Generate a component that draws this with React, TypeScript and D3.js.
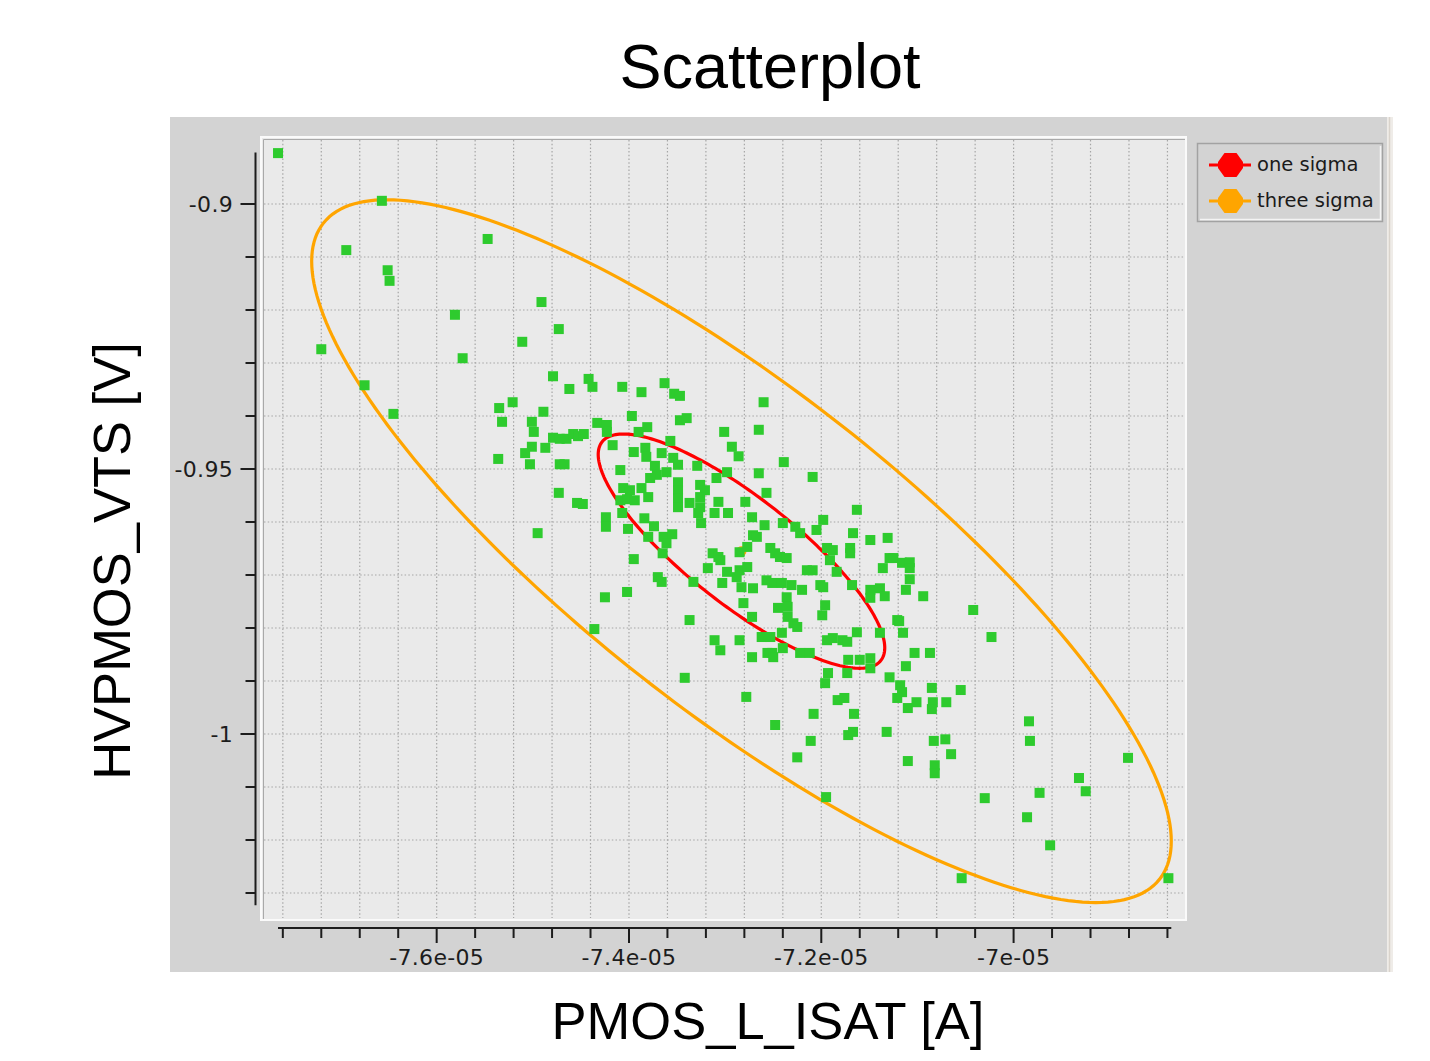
import React, { useEffect, useRef } from "react";
import * as d3 from "d3";

const WIDTH = 1430;
const HEIGHT = 1061;

// samples: [PMOS_L_ISAT in uA, HVPMOS_VTS in V]
const SAMPLES = [
  [-77.65, -0.8904], [-76.57, -0.8994], [-76.94, -0.9087], [-76.51, -0.9125], [-76.49, -0.9145],
  [-75.47, -0.9066], [-77.2, -0.9274], [-76.75, -0.9342], [-76.45, -0.9396], [-75.81, -0.9209],
  [-75.73, -0.9291], [-74.91, -0.9185], [-74.73, -0.9236], [-75.11, -0.926], [-74.36, -0.9802],
  [-71.95, -1.0119], [-70.54, -1.0272], [-68.39, -1.0272], [-69.62, -1.021], [-69.86, -1.0157],
  [-69.73, -1.0111], [-70.3, -1.0121], [-69.32, -1.0083], [-69.25, -1.0108], [-68.81, -1.0045],
  [-69.84, -0.9976], [-69.83, -1.0013], [-70.42, -0.9766], [-70.23, -0.9817], [-70.55, -0.9917],
  // left / upper cluster
  [-74.79, -0.9325], [-74.62, -0.9349], [-74.42, -0.933], [-74.38, -0.9345], [-74.07, -0.9345],
  [-73.87, -0.9355], [-73.63, -0.9338], [-73.53, -0.9358], [-73.47, -0.9362],
  [-75.21, -0.9374], [-75.35, -0.9385], [-75.32, -0.9411], [-74.89, -0.9392], [-75.01, -0.9411],
  [-74.99, -0.943], [-74.33, -0.9413], [-74.23, -0.9417], [-74.23, -0.943], [-73.97, -0.94],
  [-73.47, -0.9408], [-73.4, -0.9404], [-73.81, -0.9421], [-73.9, -0.943],
  [-74.79, -0.9441], [-74.72, -0.9443], [-74.65, -0.9443], [-74.58, -0.9434], [-74.53, -0.9438],
  [-74.47, -0.9434], [-75.01, -0.9458], [-75.08, -0.947], [-74.87, -0.946], [-74.17, -0.9455],
  [-73.95, -0.9468], [-73.83, -0.946], [-73.82, -0.9477], [-73.57, -0.9447], [-73.66, -0.947],
  [-73.54, -0.9479], [-73.49, -0.9492], [-73.29, -0.9494],
  [-75.36, -0.9481], [-75.03, -0.9491], [-74.72, -0.9491], [-74.67, -0.9491], [-74.09, -0.9502],
  [-73.73, -0.9494], [-73.71, -0.9511], [-73.61, -0.9506], [-73.78, -0.9517],
  [-73.49, -0.9525], [-73.49, -0.954], [-73.49, -0.9555], [-73.49, -0.9572], [-73.26, -0.953],
  [-73.21, -0.954], [-73.26, -0.9553], [-73.26, -0.9572], [-73.28, -0.9583], [-73.37, -0.9564],
  [-73.09, -0.9517], [-73.11, -0.9583],
  [-74.06, -0.9536], [-73.99, -0.954], [-73.87, -0.9536], [-73.8, -0.9553], [-74.09, -0.9559],
  [-74.02, -0.9557], [-73.94, -0.9559], [-74.07, -0.9583],
  [-74.73, -0.9545], [-74.54, -0.9564], [-74.48, -0.9566], [-74.24, -0.9591], [-74.24, -0.9609],
  [-74.01, -0.9613], [-73.84, -0.9593], [-73.74, -0.9608], [-73.8, -0.9628], [-73.64, -0.9628],
  [-73.55, -0.9623], [-73.61, -0.964], [-73.65, -0.9659], [-74.95, -0.9621], [-73.95, -0.967],
  [-73.25, -0.9602], [-73.13, -0.9659],
  [-72.6, -0.9374], [-72.65, -0.9426], [-73.01, -0.943], [-72.93, -0.9458], [-72.86, -0.9476],
  [-72.39, -0.9487],
  // centre cluster
  [-72.98, -0.9506], [-72.65, -0.9508], [-72.09, -0.9515], [-73.07, -0.9562], [-72.97, -0.9583],
  [-72.79, -0.9562], [-72.72, -0.9591], [-72.57, -0.9545], [-72.59, -0.9606], [-72.4, -0.9602],
  [-72.22, -0.9621], [-72.05, -0.9615], [-71.98, -0.9596], [-72.27, -0.9609], [-71.63, -0.9577],
  [-71.67, -0.9621], [-71.49, -0.9634], [-71.31, -0.963],
  [-73.07, -0.9666], [-72.85, -0.9657], [-72.77, -0.9647], [-72.71, -0.9625], [-72.67, -0.9628],
  [-72.53, -0.9649], [-72.48, -0.9659], [-72.43, -0.9666], [-72.36, -0.9668], [-71.94, -0.9649],
  [-71.88, -0.9653], [-71.91, -0.9672], [-71.29, -0.9668],
  [-73.7, -0.9704], [-73.66, -0.9713], [-73.18, -0.9687], [-73.05, -0.9672], [-72.98, -0.9694],
  [-72.88, -0.9704], [-72.85, -0.9691], [-72.83, -0.9723], [-72.77, -0.9685], [-72.71, -0.9725],
  [-72.57, -0.971], [-72.51, -0.9715], [-72.41, -0.9715], [-72.31, -0.9719], [-72.2, -0.9728],
  [-72.15, -0.9691], [-72.09, -0.9691], [-72.01, -0.9719], [-71.98, -0.9723], [-71.84, -0.9694],
  [-71.68, -0.9719], [-71.49, -0.9728], [-71.39, -0.9725], [-71.36, -0.9687], [-71.25, -0.9668],
  [-74.25, -0.9742], [-74.02, -0.9732], [-73.33, -0.9713], [-73.03, -0.9715], [-72.81, -0.9753],
  [-72.72, -0.9779], [-72.45, -0.9762], [-72.36, -0.9742], [-72.35, -0.976], [-72.35, -0.9779],
  [-72.29, -0.9791], [-72.25, -0.9798], [-71.96, -0.9757], [-71.99, -0.9776],
  [-73.37, -0.9785], [-73.11, -0.9823], [-73.05, -0.9842], [-72.85, -0.9823], [-72.72, -0.9855],
  [-72.62, -0.9817], [-72.53, -0.9817], [-72.51, -0.9847], [-72.41, -0.9809], [-72.4, -0.9838],
  [-72.22, -0.9847], [-72.12, -0.9847], [-71.94, -0.9823], [-71.88, -0.9819], [-71.78, -0.9823],
  [-71.73, -0.9826], [-71.63, -0.9808], [-71.39, -0.9809], [-71.21, -0.9785],
  [-73.42, -0.9894], [-71.72, -0.986], [-71.6, -0.986], [-71.49, -0.9857], [-71.49, -0.9876],
  [-71.93, -0.9885], [-71.73, -0.9885], [-71.29, -0.9893],
  // right / lower cluster
  [-71.7, -0.9649], [-71.7, -0.9659], [-71.16, -0.9677], [-71.08, -0.9676], [-71.08, -0.9687],
  [-71.08, -0.9708], [-71.12, -0.9728], [-70.94, -0.974], [-71.34, -0.974], [-71.49, -0.9743],
  [-71.19, -0.9787], [-71.15, -0.9809], [-71.96, -0.9904], [-71.12, -0.9872], [-71.03, -0.9847],
  [-70.87, -0.9847], [-71.18, -0.9908], [-71.16, -0.9921], [-71.21, -0.9932], [-71.1, -0.9951],
  [-71.01, -0.994], [-70.85, -0.9913], [-70.84, -0.994], [-70.85, -0.9953], [-70.7, -0.994],
  [-71.83, -0.9936], [-71.76, -0.9932], [-71.66, -0.9962], [-71.72, -1.0002], [-71.67, -0.9996],
  [-71.32, -0.9996], [-70.83, -1.0013], [-70.71, -1.001], [-70.65, -1.0038], [-71.1, -1.0051],
  [-70.82, -1.0059], [-70.82, -1.0074],
  [-72.56, -0.9847], [-72.5, -0.9855], [-72.78, -0.993], [-72.08, -0.9962], [-72.48, -0.9983],
  [-72.11, -1.0013], [-72.25, -1.0044],
];

// gaussian fit shown by the ellipses
const MEAN_ISAT_UA = -72.83;
const MEAN_VTS = -0.9655;
const SD_ISAT_UA = 1.49;
const SD_VTS = 0.0221;
const RHO = -0.825;

const SIGMA_LEVELS = [1, 3];
const SIGMA_NAMES = ["one sigma", "three sigma"];
const SIGMA_COLORS = ["#ff0000", "#ffa500"];

// axes
const X_MAJOR = [-7.6e-5, -7.4e-5, -7.2e-5, -7e-5];
const X_LABELS = ["-7.6e-05", "-7.4e-05", "-7.2e-05", "-7e-05"];
const Y_MAJOR = [-0.9, -0.95, -1];
const Y_LABELS = ["-0.9", "-0.95", "-1"];
const X_MINOR = d3.range(0, 24).map((i) => (-776 + 4 * i) * 1e-7);
const Y_MINOR = d3.range(90, 104).map((i) => -i / 100);
const X_AXIS_EXTENT = [-77.65e-6, -68.36e-6];
const Y_AXIS_EXTENT = [-0.8903, -1.0323];

const TICK_FONT = "'DejaVu Sans', Verdana, sans-serif";
const TITLE_FONT = "'Liberation Sans', Arial, Helvetica, sans-serif";

export default function App() {
  const ref = useRef(null);

  useEffect(() => {
    const svg = d3.select(ref.current);
    svg.selectAll("*").remove();

    const plot = { left: 261, top: 137, right: 1186, bottom: 920 };

    const x = d3.scaleLinear().domain([-7.7827e-5, -6.8207e-5]).range([plot.left, plot.right]);
    const y = d3.scaleLinear().domain([-0.88736, -1.03509]).range([plot.top, plot.bottom]);

    // grey panel
    svg.append("rect").attr("x", 170).attr("y", 117).attr("width", 1218).attr("height", 855).attr("fill", "#d3d3d3");
    svg.append("rect").attr("x", 1387).attr("y", 117).attr("width", 6).attr("height", 855).attr("fill", "#efece8");
    svg.append("line").attr("x1", 1389.5).attr("x2", 1389.5).attr("y1", 117).attr("y2", 972).attr("stroke", "#d9d3cb").attr("stroke-width", 1.5);

    // plot area
    svg.append("rect")
      .attr("x", plot.left).attr("y", plot.top)
      .attr("width", plot.right - plot.left).attr("height", plot.bottom - plot.top)
      .attr("fill", "#eaeaea").attr("stroke", "#fafafa").attr("stroke-width", 2);
    svg.append("path")
      .attr("d", `M${plot.left + 2.5},${plot.bottom - 1}V${plot.top + 2.5}H${plot.right - 1}`)
      .attr("fill", "none").attr("stroke", "#a9a9a9").attr("stroke-width", 1);

    // dotted grid
    const grid = svg.append("g").attr("stroke", "#a6a6a6").attr("stroke-width", 1.2).attr("stroke-dasharray", "1.5,2.2");
    grid.selectAll("line.v").data(X_MINOR).enter().append("line")
      .attr("x1", (d) => x(d)).attr("x2", (d) => x(d))
      .attr("y1", plot.top + 3).attr("y2", plot.bottom - 2);
    grid.selectAll("line.h").data(Y_MINOR).enter().append("line")
      .attr("y1", (d) => y(d)).attr("y2", (d) => y(d))
      .attr("x1", plot.left + 3).attr("x2", plot.right - 2);

    // sigma ellipses
    const ellipse = (k) =>
      d3.range(0, 240).map((i) => {
        const t = (i / 240) * 2 * Math.PI;
        const xv = MEAN_ISAT_UA + k * SD_ISAT_UA * Math.cos(t);
        const yv = MEAN_VTS + k * SD_VTS * (RHO * Math.cos(t) + Math.sqrt(1 - RHO * RHO) * Math.sin(t));
        return [x(xv * 1e-6), y(yv)];
      });
    const line = d3.line().curve(d3.curveLinearClosed);
    SIGMA_LEVELS.forEach((k, i) => {
      svg.append("path")
        .attr("d", line(ellipse(k)))
        .attr("fill", "none")
        .attr("stroke", SIGMA_COLORS[i])
        .attr("stroke-width", 3.2);
    });

    // mean marker
    svg.append("circle")
      .attr("cx", x(MEAN_ISAT_UA * 1e-6)).attr("cy", y(MEAN_VTS))
      .attr("r", 5).attr("fill", SIGMA_COLORS[1]);

    // points
    const size = 10;
    svg.append("g").selectAll("rect").data(SAMPLES).enter().append("rect")
      .attr("x", (d) => x(d[0] * 1e-6) - size / 2)
      .attr("y", (d) => y(d[1]) - size / 2)
      .attr("width", size).attr("height", size)
      .attr("fill", "#2ecb2e");

    // y axis
    const yAxisX = 255.5;
    const axisColor = "#1c1c1c";
    svg.append("line")
      .attr("x1", yAxisX).attr("x2", yAxisX)
      .attr("y1", y(Y_AXIS_EXTENT[0])).attr("y2", y(Y_AXIS_EXTENT[1]))
      .attr("stroke", axisColor).attr("stroke-width", 2);
    svg.append("g").selectAll("line").data(Y_MINOR).enter().append("line")
      .attr("x1", (d) => (Y_MAJOR.some((m) => Math.abs(m - d) < 1e-9) ? yAxisX - 15 : yAxisX - 10))
      .attr("x2", yAxisX)
      .attr("y1", (d) => y(d)).attr("y2", (d) => y(d))
      .attr("stroke", axisColor).attr("stroke-width", 2);
    svg.append("g").selectAll("text").data(Y_MAJOR).enter().append("text")
      .attr("x", 233).attr("y", (d) => y(d) + 8)
      .attr("text-anchor", "end")
      .attr("font-family", TICK_FONT).attr("font-size", 22).attr("letter-spacing", 0.3).attr("fill", axisColor)
      .text((d, i) => Y_LABELS[i]);

    // x axis
    const xAxisY = 928;
    svg.append("line")
      .attr("x1", x(X_AXIS_EXTENT[0])).attr("x2", x(X_AXIS_EXTENT[1]))
      .attr("y1", xAxisY).attr("y2", xAxisY)
      .attr("stroke", axisColor).attr("stroke-width", 2);
    svg.append("g").selectAll("line").data(X_MINOR).enter().append("line")
      .attr("x1", (d) => x(d)).attr("x2", (d) => x(d))
      .attr("y1", xAxisY)
      .attr("y2", (d) => (X_MAJOR.some((m) => Math.abs(m - d) < 1e-12) ? xAxisY + 15 : xAxisY + 10))
      .attr("stroke", axisColor).attr("stroke-width", 2);
    svg.append("g").selectAll("text").data(X_MAJOR).enter().append("text")
      .attr("x", (d) => x(d)).attr("y", 965)
      .attr("text-anchor", "middle")
      .attr("font-family", TICK_FONT).attr("font-size", 22).attr("letter-spacing", 0.3).attr("fill", axisColor)
      .text((d, i) => X_LABELS[i]);

    // legend
    const lg = svg.append("g");
    lg.append("rect").attr("x", 1197.5).attr("y", 143.5).attr("width", 185).attr("height", 78)
      .attr("fill", "#d3d3d3").attr("stroke", "#a2a2a2").attr("stroke-width", 1.5);
    lg.append("path").attr("d", "M1200,219.5H1380.5V146").attr("fill", "none").attr("stroke", "#f4f4f4").attr("stroke-width", 1.5);
    SIGMA_NAMES.forEach((name, i) => {
      const cy = 165 + i * 36;
      const c = SIGMA_COLORS[i];
      lg.append("line").attr("x1", 1209).attr("x2", 1251).attr("y1", cy).attr("y2", cy)
        .attr("stroke", c).attr("stroke-width", 3);
      lg.append("polygon")
        .attr("points", [[-6, -12], [6, -12], [12.5, -3], [12.5, 3], [6, 12], [-6, 12], [-12.5, 3], [-12.5, -3]]
          .map((p) => `${1230.5 + p[0]},${cy + p[1]}`).join(" "))
        .attr("fill", c);
      lg.append("text").attr("x", 1257).attr("y", cy + 6)
        .attr("font-family", TICK_FONT).attr("font-size", 19.5).attr("fill", "#1a1a1a")
        .text(name);
    });

    // titles
    svg.append("text").attr("x", 770).attr("y", 88).attr("text-anchor", "middle")
      .attr("font-family", TITLE_FONT).attr("font-size", 63).attr("fill", "#000")
      .text("Scatterplot");
    svg.append("text").attr("x", 768).attr("y", 1039).attr("text-anchor", "middle")
      .attr("font-family", TITLE_FONT).attr("font-size", 52.5).attr("fill", "#000")
      .text("PMOS_L_ISAT [A]");
    svg.append("text").attr("transform", "translate(130,561) rotate(-90)").attr("text-anchor", "middle")
      .attr("font-family", TITLE_FONT).attr("font-size", 52.5).attr("fill", "#000")
      .text("HVPMOS_VTS [V]");
  }, []);

  return (
    <svg
      ref={ref}
      width={WIDTH}
      height={HEIGHT}
      style={{ position: "absolute", left: 0, top: 0, background: "#fff" }}
    />
  );
}
